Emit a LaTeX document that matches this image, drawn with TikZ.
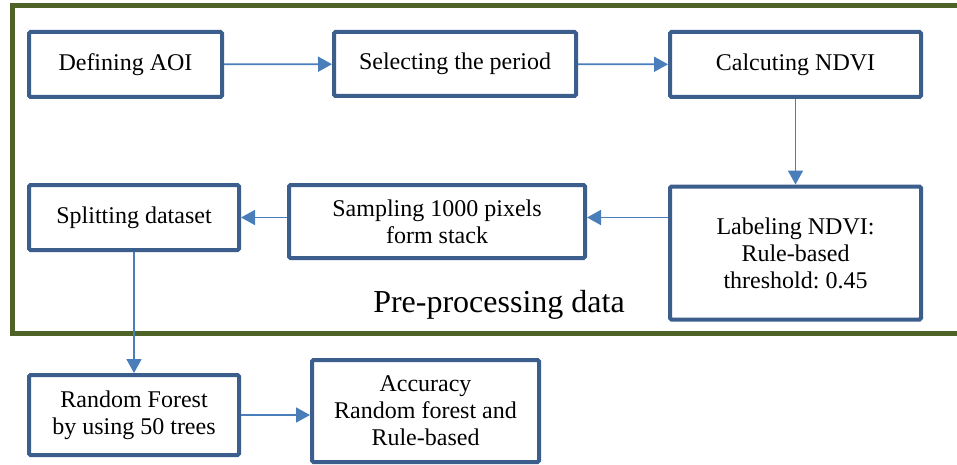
\documentclass[tikz,border=0pt]{standalone}
\usepackage{fontspec}
\setmainfont{Liberation Serif}
\frenchspacing
\usetikzlibrary{arrows.meta}
\definecolor{myblue1}{RGB}{59, 94, 140}
\definecolor{myblue2}{RGB}{74, 126, 187}
\definecolor{mygreen1}{RGB}{79, 98, 40}

\begin{document}
\begin{tikzpicture}[
    x = 1pt, y = -1pt,
    b0/.style = {draw = myblue1, line width = 4pt, rounded corners = 1.5pt, align = center, inner sep = 0pt,
                 font = \fontsize{24}{27}\selectfont},
    a0/.style = {draw = myblue2, line width = 1.8pt, -{Triangle[length = 14pt, width = 15pt]}}
]

\clip (0,0) rectangle (957,465);

% frame
\draw[draw = mygreen1, line width = 5pt] (12.5,5.5) rectangle (975,333);
\node[anchor = base, font = \fontsize{32}{36}\selectfont] (pre) at (499,312) {Pre-processing data};

\node[b0, minimum width = 193pt, minimum height = 65pt] (aoi) at (125.5,64.5) {Defining AOI};
\node[b0, minimum width = 242pt, minimum height = 64pt] (per) at (455,64) {Selecting the period};
\node[b0, minimum width = 251pt, minimum height = 65pt] (ndvi) at (795.5,64.5) {Calcuting NDVI};
\node[b0, minimum width = 251pt, minimum height = 133pt] (lab) at (795.5,253) {Labeling NDVI:\\ Rule-based\\ threshold: 0.45};
\node[b0, minimum width = 296pt, minimum height = 73pt] (smp) at (437,221.5) {Sampling 1000 pixels\\ form stack};
\node[b0, minimum width = 210pt, minimum height = 65pt] (spl) at (134,217.5) {Splitting dataset};
\node[b0, minimum width = 210pt, minimum height = 80pt] (rf) at (134,415) {Random Forest\\ by using 50 trees};
\node[b0, minimum width = 227pt, minimum height = 102pt] (acc) at (425.5,411) {Accuracy\\ Random forest and\\ Rule-based};

\draw[a0] (aoi) -- (per);
\draw[a0] (per) -- (ndvi);
\draw[a0] (ndvi) -- (lab);
\draw[a0] (lab.west |- spl.east) -- (smp.east |- spl.east);
\draw[a0] (smp.west |- spl.east) -- (spl.east);
\draw[a0] (spl) -- (rf);
\draw[a0] (rf) -- (acc.west |- rf.east);

\end{tikzpicture}
\end{document}
